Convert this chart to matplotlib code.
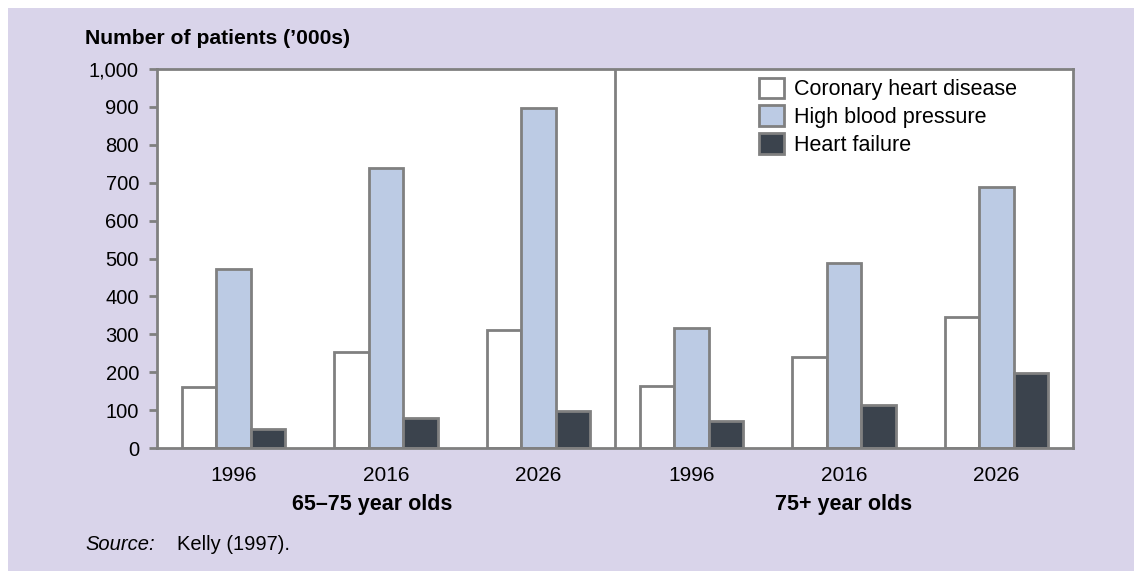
import numpy as np
import matplotlib as mpl
import matplotlib.pyplot as plt
from matplotlib.patches import Rectangle

mpl.rcParams['font.family'] = ['Liberation Sans', 'DejaVu Sans']

# Data ('000s of patients)
years = ['1996', '2016', '2026', '1996', '2016', '2026']
groups = ['65\u201375 year olds', '75+ year olds']
series = ['Coronary heart disease', 'High blood pressure', 'Heart failure']
chd = [162, 252, 311, 163, 241, 345]
hbp = [472, 740, 896, 317, 487, 689]
hf = [49, 78, 98, 71, 113, 197]

colors = ['#ffffff', '#bccbe4', '#3b434d']
edge = '#808080'
bg = '#d9d4ea'

fig = plt.figure(figsize=(11.34, 5.71), dpi=100, facecolor='white')
fig.patches.append(Rectangle((8 / 1134, 0), 1, 1 - 8 / 571, transform=fig.transFigure,
                             facecolor=bg, edgecolor='none', zorder=-1))

ax = fig.add_axes([157 / 1134, 1 - 448 / 571, (1073 - 157) / 1134, (448 - 69) / 571])
ax.set_facecolor('white')

x = np.arange(len(years))
w = 0.225
for i, (vals, lab) in enumerate(zip([chd, hbp, hf], series)):
    ax.bar(x + (i - 1) * w, vals, w, color=colors[i], edgecolor=edge,
           linewidth=2, label=lab, zorder=2)

ax.axvline(2.5, color=edge, linewidth=2, zorder=3)
ax.set_xlim(-0.5, 5.5)
ax.set_ylim(0, 1000)
ax.set_yticks(range(0, 1001, 100))
ax.set_yticklabels(['{:,}'.format(v) for v in range(0, 1001, 100)])
ax.set_xticks(x)
ax.set_xticklabels(years)
ax.tick_params(axis='y', length=6, width=2, color=edge, labelsize=14.5, pad=7)
ax.tick_params(axis='x', length=0, labelsize=15, pad=13)
for s in ax.spines.values():
    s.set_color(edge)
    s.set_linewidth(2)

ax.text(0.908, -0.148, groups[0], transform=ax.get_xaxis_transform(),
        ha='center', va='center', fontsize=15.5, fontweight='bold')
ax.text(4.0, -0.148, groups[1], transform=ax.get_xaxis_transform(),
        ha='center', va='center', fontsize=15.5, fontweight='bold')

fig.text(85 / 1134, 1 - 39 / 571, "Number of patients (\u2019000s)", ha='left', va='center',
         fontsize=15.2, fontweight='bold')
fig.text(85 / 1134, 1 - 545 / 571, 'Source:', ha='left', va='center', fontsize=14.5, style='italic')
fig.text(177 / 1134, 1 - 545 / 571, 'Kelly (1997).', ha='left', va='center', fontsize=14.5)

leg = ax.legend(loc='upper left', bbox_to_anchor=((759 - 157 - 8.6) / 916, 1.0), frameon=False,
                fontsize=15.5, handlelength=1.16, handleheight=1.07, handletextpad=0.45,
                labelspacing=0.25, borderaxespad=0.2, borderpad=0.2)

fig.savefig('out.png', dpi=100, facecolor=fig.get_facecolor())
